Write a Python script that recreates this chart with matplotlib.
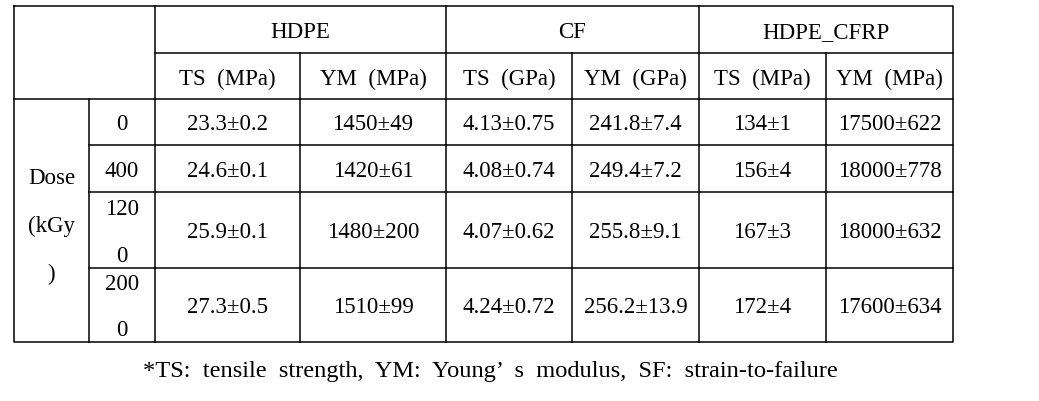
import matplotlib
matplotlib.use("Agg")
import matplotlib.pyplot as plt

# ---- data ----
materials = ["HDPE", "CF", "HDPE_CFRP"]
properties = ["TS  (MPa)", "YM  (MPa)", "TS  (GPa)", "YM  (GPa)", "TS  (MPa)", "YM  (MPa)"]
dose_title = ["Dose", "(kGy", ")"]
doses = ["0", "400", "1200", "2000"]
hdpe_ts = ["23.3±0.2", "24.6±0.1", "25.9±0.1", "27.3±0.5"]
hdpe_ym = ["1450±49", "1420±61", "1480±200", "1510±99"]
cf_ts = ["4.13±0.75", "4.08±0.74", "4.07±0.62", "4.24±0.72"]
cf_ym = ["241.8±7.4", "249.4±7.2", "255.8±9.1", "256.2±13.9"]
cfrp_ts = ["134±1", "156±4", "167±3", "172±4"]
cfrp_ym = ["17500±622", "18000±778", "18000±632", "17600±634"]
footnote = "*TS:  tensile  strength,  YM:  Young\u2019  s  modulus,  SF:  strain-to-failure"

# ---- layout (pixel grid) ----
W, H = 1039, 402
xs = [14, 89, 155, 300, 446, 572, 699, 826, 953]
ys = [7, 54, 100, 146, 193, 269, 343]

fig = plt.figure(figsize=(W / 100, H / 100), dpi=100)
ax = fig.add_axes([0, 0, 1, 1])
ax.set_xlim(0, W)
ax.set_ylim(H, 0)
ax.axis("off")

lw = 1.1
c = "black"
FONT = "Liberation Serif"
fs = 16.5
DY = 2

# outer border
ax.plot([xs[0], xs[-1], xs[-1], xs[0], xs[0]], [ys[0], ys[0], ys[-1], ys[-1], ys[0]], color=c, lw=lw)
# header horizontal lines
ax.plot([xs[2], xs[-1]], [ys[1], ys[1]], color=c, lw=lw)
ax.plot([xs[0], xs[-1]], [ys[2], ys[2]], color=c, lw=lw)
for y in ys[3:-1]:
    ax.plot([xs[1], xs[-1]], [y, y], color=c, lw=lw)
# vertical lines
ax.plot([xs[1], xs[1]], [ys[2], ys[-1]], color=c, lw=lw)
for x in [xs[2], xs[4], xs[6]]:
    ax.plot([x, x], [ys[0], ys[-1]], color=c, lw=lw)
for x in [xs[3], xs[5], xs[7]]:
    ax.plot([x, x], [ys[1], ys[-1]], color=c, lw=lw)

def txt(x, y, s, size=fs):
    ax.text(x, y + DY, s, ha="center", va="center", fontsize=size, family=FONT, color=c)

# material headers
for i, m in enumerate(materials):
    txt((xs[2 + 2 * i] + xs[4 + 2 * i]) / 2, (ys[0] + ys[1]) / 2, m)
# property headers
for i, p in enumerate(properties):
    txt((xs[2 + i] + xs[3 + i]) / 2, (ys[1] + ys[2]) / 2, p)

# dose title (wrapped in merged cell)
dy_center = (ys[2] + ys[-1]) / 2 + 3
for k, s in enumerate(dose_title):
    txt((xs[0] + xs[1]) / 2, dy_center + (k - 1) * 47.5, s)

# dose values (wrapped at 3 chars, as in the narrow column)
for r, d in enumerate(doses):
    yc = (ys[2 + r] + ys[3 + r]) / 2
    parts = [d[i:i + 3] for i in range(0, len(d), 3)]
    if len(parts) == 1:
        txt((xs[1] + xs[2]) / 2, yc, parts[0])
    else:
        txt((xs[1] + xs[2]) / 2, yc - 23, parts[0])
        txt((xs[1] + xs[2]) / 2, yc + 23, parts[1])

columns = [hdpe_ts, hdpe_ym, cf_ts, cf_ym, cfrp_ts, cfrp_ym]
for ci, col in enumerate(columns):
    for r, v in enumerate(col):
        txt((xs[2 + ci] + xs[3 + ci]) / 2, (ys[2 + r] + ys[3 + r]) / 2, v)

ax.text(490, 372, footnote, ha="center", va="center", fontsize=17.6, family=FONT, color=c)

fig.savefig("out.png", dpi=100, facecolor="white")
